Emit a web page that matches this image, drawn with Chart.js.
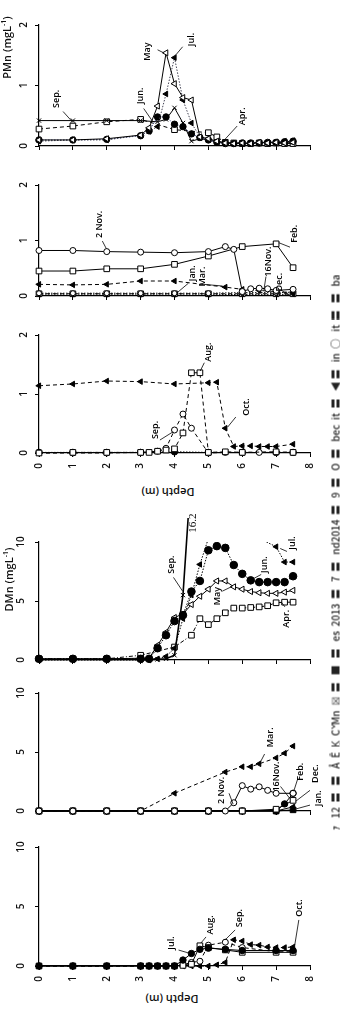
<!DOCTYPE html>
<html>
<head>
<meta charset="utf-8">
<script src="https://cdn.jsdelivr.net/npm/chart.js@4.4.1/dist/chart.umd.min.js"></script>
<style>
  body { margin: 0; width: 340px; height: 1022px; background: #fff; position: relative; overflow: hidden; }
  canvas { position: absolute; left: 0; }
  .lbl { position: absolute; white-space: nowrap; color: #111; font-family: "Open Sans", sans-serif; font-weight: 600; }
  .ytitle { font-size: 11px; transform: rotate(-90deg); transform-origin: center; text-align: center; }
  .xtitle { font-size: 11px; transform: rotate(180deg); transform-origin: center; text-align: center; }
  .cap { font-size: 10px; font-family: "Noto Sans CJK JP", sans-serif; font-weight: 500; color: #222;
         transform: rotate(-90deg); transform-origin: center; text-align: justify; text-align-last: justify; }
  sup { font-size: 7px; }
</style>
</head>
<body>
<canvas id="c1" width="340" height="160" style="top:0px"></canvas>
<canvas id="c2" width="340" height="150" style="top:160px"></canvas>
<canvas id="c3" width="340" height="165" style="top:310px"></canvas>
<canvas id="c4" width="340" height="174" style="top:500px"></canvas>
<canvas id="c5" width="340" height="151" style="top:674px"></canvas>
<canvas id="c6" width="340" height="163" style="top:825px"></canvas>

<div class="lbl ytitle" style="left:-34px;top:40px;width:80px;height:15px;">PMn (mgL<sup>-1</sup>)</div>
<div class="lbl ytitle" style="left:-32px;top:572px;width:80px;height:15px;">DMn (mgL<sup>-1</sup>)</div>
<div class="lbl xtitle" style="left:128px;top:485px;width:80px;height:15px;">Depth (m)</div>
<div class="lbl xtitle" style="left:132px;top:992px;width:80px;height:15px;">Depth (m)</div>
<div class="lbl cap" style="left:56px;top:546px;width:556px;height:13px;">ｧ 12 〓 〓 Å Ê Ķ Č Mn ☒ 〓 ■ 〓 es 2013 〓 7 〓 nd2014 〓 9 〓 O 〓 bec it 〓 ◀〓 in ○ it 〓 〓 ba</div>

<script>
// sampling depths (m), shared by all profiles; null = not sampled
const DEPTHS = [0, 1, 2, 3, 3.25, 3.5, 3.75, 4, 4.25, 4.5, 4.75, 5, 5.25, 5.5, 5.75, 6, 6.25, 6.5, 6.75, 7, 7.25, 7.5];
const _ = null;

// PMn, Apr - Sep 2014
const pmnApr = [0.28, 0.33, 0.40, 0.44, _, _, _, 0.27, _, _, _, 0.22, 0.15, 0.06, 0.05, 0.04, 0.04, 0.05, 0.04, 0.05, 0.04, 0.04];
const pmnMay = [0.10, 0.10, 0.12, 0.18, 0.30, 0.66, 1.54, 1.03, 0.80, 0.76, 0.15, 0.12, 0.08, 0.05, 0.04, 0.05, 0.04, 0.06, 0.05, 0.06, 0.05, 0.06];
const pmnJun = [0.10, 0.10, 0.11, 0.17, 0.25, 0.48, 0.48, 0.36, 0.32, 0.20, 0.14, 0.10, 0.06, 0.04, 0.04, 0.05, 0.05, 0.05, 0.06, 0.06, 0.07, 0.08];
const pmnJul = [0.08, 0.10, 0.10, 0.18, 0.24, 0.32, 0.86, 1.46, 0.76, 0.38, 0.15, 0.10, 0.07, 0.05, 0.04, 0.05, 0.05, 0.06, 0.06, 0.07, 0.08, 0.09];
const pmnSep = [0.42, 0.42, 0.42, 0.42, _, 0.40, 0.44, 0.63, 0.38, 0.08, 0.12, 0.10, 0.07, 0.06, 0.05, 0.05, 0.05, 0.06, 0.06, 0.06, 0.07, 0.08];

// PMn, Nov 2013 - Mar 2014
const pmn2Nov = [0.82, 0.82, 0.80, 0.79, _, _, _, 0.78, _, _, _, 0.80, _, 0.89, 0.84, 0.08, 0.13, 0.14, 0.13, 0.10, _, 0.12];
const pmn16Nov = [0.05, 0.05, 0.05, 0.05, _, _, _, 0.05, _, _, _, 0.05, _, _, _, 0.06, _, _, _, 0.06, _, 0.07];
const pmnDec = [0.02, 0.02, 0.02, 0.02, _, _, _, 0.02, _, _, _, 0.02, _, _, _, 0.03, _, _, _, 0.03, _, 0.03];
const pmnJan = [0.04, 0.04, 0.04, 0.04, _, _, _, 0.04, _, _, _, 0.04, _, _, _, 0.04, _, _, _, 0.04, _, 0.04];
const pmnFeb = [0.45, 0.45, 0.49, 0.49, _, _, _, 0.57, _, _, _, 0.72, _, _, _, 0.89, _, _, _, 0.94, _, 0.51];
const pmnMar = [0.21, 0.20, 0.21, 0.27, _, _, _, 0.27, _, _, _, _, _, 0.16, _, 0.12, _, 0.10, _, 0.08, _, 0.06];

// PMn, Jul - Oct 2013
const pmnJul13 = [0.01, 0.01, 0.01, 0.01, _, _, _, 0.02, _, _, _, 0.01, _, _, _, 0.01, _, _, _, 0.01, _, 0.01];
const pmnAug13 = [0.00, 0.01, 0.01, 0.01, 0.01, 0.03, 0.05, 0.07, 0.34, 1.36, 1.36, 0.01, _, 0.02, _, 0.01, _, _, _, 0.02, _, 0.01];
const pmnSep13 = [0.00, 0.00, 0.00, 0.01, _, 0.03, 0.08, 0.39, 0.66, 0.42, _, 0.00, _, 0.01, _, 0.01, _, 0.01, _, 0.01, _, 0.01];
const pmnOct13 = [1.14, 1.17, 1.22, 1.21, _, _, _, 1.17, _, _, _, 1.19, 1.20, 0.42, 0.11, 0.12, 0.12, 0.11, 0.11, 0.11, _, 0.15];

// DMn, Apr - Sep 2014
const dmnApr = [0.1, 0.1, 0.1, 0.4, _, _, _, 1.1, _, 2.1, 3.5, 3.0, 3.5, 4.0, 4.4, 4.4, 4.45, 4.5, 4.6, 4.85, 4.9, 4.9];
const dmnMay = [0.1, 0.1, 0.1, 0.15, 0.15, 1.25, 2.35, 3.6, 3.9, 4.7, 5.4, 6.0, 6.7, 6.7, 6.2, 6.0, 5.8, 5.7, 5.65, 5.65, 5.75, 5.9];
const dmnJun = [0.1, 0.1, 0.1, 0.1, 0.1, 1.0, 2.1, 3.3, 3.8, 5.8, 6.7, 9.3, 9.65, 9.5, 8.05, 7.3, 6.75, 6.6, 6.6, 6.6, 6.6, 7.1];
const dmnJul = [0.0, 0.0, 0.0, 0.0, 0.0, 0.1, 0.3, 1.0, 3.5, 5.5, 8.1, 10.3, 11.5, 12.0, 12.0, 11.5, 11.0, 10.3, _, 9.6, 8.3, 8.3];
const dmnSep = [0.05, 0.05, 0.05, 0.05, 0.05, 0.05, 0.1, 0.4, 5.5, 16.2, _, _, _, _, _, _, _, _, _, _, _, _];

// DMn, Nov 2013 - Mar 2014
const dmn2Nov = [0, 0, 0, 0, _, _, _, 0, _, _, _, 0, _, 0, 0.7, 2.15, 1.85, 2.05, 1.75, 1.5, _, 1.5];
const dmn16Nov = [0, 0, 0, 0, _, _, _, 0, _, _, _, 0, _, _, _, 0, _, _, _, 0, 0.6, 1.5];
const dmnDec = [0, 0, 0, 0, _, _, _, 0, _, _, _, 0, _, _, _, 0, _, _, _, 0, _, 0.35];
const dmnJan = [0, 0, 0, 0, _, _, _, 0, _, _, _, 0, _, _, _, 0, _, _, _, 0, _, 0.1];
const dmnFeb = [0, 0, 0, 0, _, _, _, 0, _, _, _, 0, _, _, _, 0, _, _, _, 0.15, _, 0.9];
const dmnMar = [0, 0, 0, 0, _, _, _, 1.5, _, _, _, _, _, 3.3, _, 3.75, 3.75, 4.0, _, 4.5, 4.9, 5.5];

// DMn, Jul - Oct 2013
const dmnJul13 = [0, 0, 0, 0, 0, 0, 0, 0, 0.5, 1.05, 1.4, 1.5, _, 1.4, _, 1.3, _, _, _, 1.3, _, 1.3];
const dmnAug13 = [0, 0, 0, 0, 0, 0, 0, 0, 0.05, 0.15, 1.7, 1.55, _, 1.35, _, 1.15, _, _, _, 1.15, _, 1.15];
const dmnSep13 = [0, 0, 0, 0, 0, 0, 0, 0, 0.1, 0.3, 0.4, 1.75, _, 2.0, _, 1.55, _, _, _, 1.2, _, 1.2];
const dmnOct13 = [0, 0, 0, 0, 0, 0, 0, 0, 0, 0, 0, 0, 0.1, 0.3, 2.2, 2.1, 1.8, 1.75, 1.6, 1.55, 1.55, 1.6];

Chart.defaults.font.family = '"Open Sans", sans-serif';
Chart.defaults.color = '#111';

// marker / line styles
const openSq = { pointStyle: 'rect', pointRadius: 4, pointBackgroundColor: '#fff' };
const openCi = { pointStyle: 'circle', pointRadius: 3, pointBackgroundColor: '#fff' };
const fillCi = { pointStyle: 'circle', pointRadius: 3.2, pointBackgroundColor: '#000' };
const openTr = { pointStyle: 'triangle', pointRotation: -90, pointRadius: 3.5, pointBackgroundColor: '#fff' };
const fillTr = { pointStyle: 'triangle', pointRotation: -90, pointRadius: 3.2, pointBackgroundColor: '#000' };
const cross = { pointStyle: 'crossRot', pointRadius: 3 };
const DASH = [4, 3], DOT = [1.5, 1.5];

function series(vals, marker, dash, extra) {
  return Object.assign({
    data: DEPTHS.map((d, i) => ({ x: d, y: vals[i] })).filter(p => p.y !== null),
    borderColor: '#000', borderWidth: 1, borderDash: dash || [],
    pointBorderColor: '#000', pointBorderWidth: 1,
    tension: 0, fill: false,
    clip: { left: 8, top: 0, right: 8, bottom: 8 }
  }, marker, extra || {});
}

// month labels with leader lines, placed in data units: text centre, then leader from -> to
const notesPlugin = {
  id: 'notes',
  afterDatasetsDraw(chart, args, opts) {
    const { ctx, scales: { x, y } } = chart;
    (opts.items || []).forEach(n => {
      ctx.save();
      ctx.strokeStyle = '#000';
      ctx.lineWidth = 0.8;
      if (n.line) {
        ctx.beginPath();
        ctx.moveTo(x.getPixelForValue(n.line[0]), y.getPixelForValue(n.line[1]));
        ctx.lineTo(x.getPixelForValue(n.line[2]), y.getPixelForValue(n.line[3]));
        ctx.stroke();
      }
      ctx.translate(x.getPixelForValue(n.at[0]), y.getPixelForValue(n.at[1]));
      ctx.rotate(-Math.PI / 2);
      ctx.font = n.font || '600 9px "Open Sans"';
      ctx.fillStyle = '#000';
      ctx.textAlign = 'center';
      ctx.textBaseline = 'middle';
      ctx.fillText(n.text, 0, 0);
      ctx.restore();
    });
  }
};

function build(id, cfg) {
  return new Chart(document.getElementById(id), {
    type: 'line',
    data: { datasets: cfg.sets },
    plugins: [notesPlugin],
    options: {
      responsive: false,
      animation: false,
      spanGaps: true,
      layout: { padding: { top: cfg.padTop, right: 30, left: 0, bottom: 0 } },
      plugins: { legend: { display: false }, tooltip: { enabled: false }, notes: { items: cfg.notes } },
      scales: {
        x: {
          type: 'linear', min: 0, max: 8,
          afterFit: s => { s.height = cfg.xHeight; },
          border: { color: '#000', width: 1.2 },
          grid: { drawOnChartArea: false, tickLength: 4, color: '#000', tickWidth: 1 },
          ticks: { display: cfg.xLabels, stepSize: 1, minRotation: 90, maxRotation: 90, padding: 6,
                   font: { size: 10, weight: '600' } }
        },
        y: {
          min: 0, max: cfg.yMax,
          afterFit: s => { s.width = 39; },
          border: { color: '#000', width: 1.2 },
          grid: { drawOnChartArea: false, tickLength: 4, color: '#000', tickWidth: 1 },
          ticks: { stepSize: cfg.yStep, minRotation: 90, maxRotation: 90, crossAlign: 'center', padding: 8,
                   font: { size: 10, weight: '600' } }
        }
      }
    }
  });
}

// PMn Apr-Sep 2014
build('c1', {
  padTop: 25, xHeight: 12, yMax: 2, yStep: 1, xLabels: false,
  sets: [
    series(pmnMay, openTr),
    series(pmnJul, fillTr, DOT, { borderColor: '#445' }),
    series(pmnJun, fillCi, DOT, { borderColor: '#5560a0' }),
    series(pmnSep, cross),
    series(pmnApr, openSq, DASH)
  ],
  notes: [
    { text: 'Sep.', at: [0.5, 0.78], line: [0.71, 0.57, 1.0, 0.39] },
    { text: 'Jun.', at: [3.0, 0.83], line: [3.09, 0.62, 3.35, 0.41] },
    { text: 'May', at: [3.2, 1.56], line: [3.5, 1.59, 3.68, 1.54] },
    { text: 'Jul.', at: [4.5, 1.76], line: [4.24, 1.64, 4.03, 1.5] },
    { text: 'Apr.', at: [6.0, 0.49], line: [5.85, 0.33, 5.44, 0.08] }
  ]
});

// PMn Nov 2013-Mar 2014
build('c2', {
  padTop: 25, xHeight: 12, yMax: 2, yStep: 1, xLabels: false,
  sets: [
    series(pmn2Nov, openCi),
    series(pmnFeb, openSq),
    series(pmnMar, fillTr, DASH),
    series(pmn16Nov, openCi, DOT, { pointRadius: 2.5 }),
    series(pmnDec, fillTr, DOT, { pointRadius: 2.5 }),
    series(pmnJan, openSq, DASH)
  ],
  notes: [
    { text: '2 Nov.', at: [1.78, 1.29], line: [1.87, 0.99, 1.99, 0.85] },
    { text: 'Feb.', at: [7.53, 1.12], line: [7.41, 0.88, 7.08, 0.96] },
    { text: 'Jan.', at: [4.53, 0.41], line: [4.41, 0.23, 4.06, 0.05] },
    { text: 'Mar.', at: [4.83, 0.35], line: [4.86, 0.21, 5.42, 0.18] },
    { text: '16Nov.', at: [6.76, 0.62], line: [6.7, 0.35, 6.64, 0.11] },
    { text: 'Dec.', at: [7.11, 0.25], line: [7.14, 0.11, 7.35, 0.02] }
  ]
});

// PMn Jul-Oct 2013
build('c3', {
  padTop: 25, xHeight: 22, yMax: 2, yStep: 1, xLabels: true,
  sets: [
    series(pmnAug13, openSq, DASH),
    series(pmnSep13, openCi, DASH),
    series(pmnOct13, fillTr, DASH),
    series(pmnJul13, fillCi, DOT)
  ],
  notes: [
    { text: 'Aug.', at: [5.0, 1.71], line: [4.88, 1.53, 4.76, 1.39] },
    { text: 'Oct.', at: [6.13, 0.78], line: [5.81, 0.61, 5.57, 0.44] },
    { text: 'Sep.', at: [3.45, 0.39], line: [3.57, 0.22, 3.96, 0.36] }
  ]
});

// DMn Apr-Sep 2014
build('c4', {
  padTop: 42, xHeight: 12, yMax: 10, yStep: 5, xLabels: false,
  sets: [
    series(dmnSep, cross, [], { borderWidth: 1.6, clip: { left: 8, top: 24, right: 8, bottom: 8 } }),
    series(dmnJun, fillCi, DOT, { pointRadius: 3.8 }),
    series(dmnJul, fillTr, DOT),
    series(dmnMay, openTr),
    series(dmnApr, openSq, [4, 2, 1, 2])
  ],
  notes: [
    { text: '16.2', at: [4.55, 11.6], font: '11px "Liberation Serif"' },
    { text: 'Sep.', at: [3.91, 8.08], line: [3.97, 7.0, 4.24, 5.83] },
    { text: 'Jul.', at: [7.47, 9.92], line: [7.32, 9.2, 7.12, 9.45] },
    { text: 'Jun.', at: [6.65, 8.08], line: [6.56, 7.25, 6.29, 6.83] },
    { text: 'May', at: [5.26, 5.42], line: [5.41, 5.83, 5.71, 6.25] },
    { text: 'Apr.', at: [7.29, 3.5], line: [7.26, 4.5, 7.15, 4.92] }
  ]
});

// DMn Nov 2013-Mar 2014
build('c5', {
  padTop: 19, xHeight: 12, yMax: 10, yStep: 5, xLabels: false,
  sets: [
    series(dmn2Nov, openCi),
    series(dmnFeb, openSq),
    series(dmn16Nov, fillCi),
    series(dmnDec, fillTr),
    series(dmnJan, openSq, [], { pointBackgroundColor: '#000' }),
    series(dmnMar, fillTr, DASH)
  ],
  notes: [
    { text: 'Mar.', at: [6.84, 6.25], line: [6.66, 4.83, 6.54, 4.17] },
    { text: '2 Nov.', at: [5.4, 1.75], line: [5.61, 1.5, 5.73, 0.58] },
    { text: '16Nov.', at: [7.01, 2.92], line: [7.13, 2.08, 7.4, 1.08] },
    { text: 'Feb.', at: [7.73, 3.33], line: [7.64, 2.75, 7.52, 1.67] },
    { text: 'Dec.', at: [8.15, 3.17], line: [8.0, 1.75, 7.58, 0.83] },
    { text: 'Jan.', at: [8.24, 1.08], line: [8.0, 0.5, 7.58, 0.17] }
  ]
});

// DMn Jul-Oct 2013
build('c6', {
  padTop: 22, xHeight: 22, yMax: 10, yStep: 5, xLabels: true,
  sets: [
    series(dmnJul13, fillCi),
    series(dmnAug13, openSq),
    series(dmnSep13, openCi, DASH),
    series(dmnOct13, fillTr, DASH)
  ],
  notes: [
    { text: 'Jul.', at: [3.91, 1.93], line: [4.12, 1.34, 4.42, 1.09] },
    { text: 'Aug.', at: [5.07, 3.45], line: [4.93, 2.44, 4.78, 1.93] },
    { text: 'Sep.', at: [5.91, 4.03], line: [5.79, 3.03, 5.49, 2.18] },
    { text: 'Oct.', at: [7.7, 4.87], line: [7.67, 3.87, 7.55, 1.76] }
  ]
});
</script>
</body>
</html>
